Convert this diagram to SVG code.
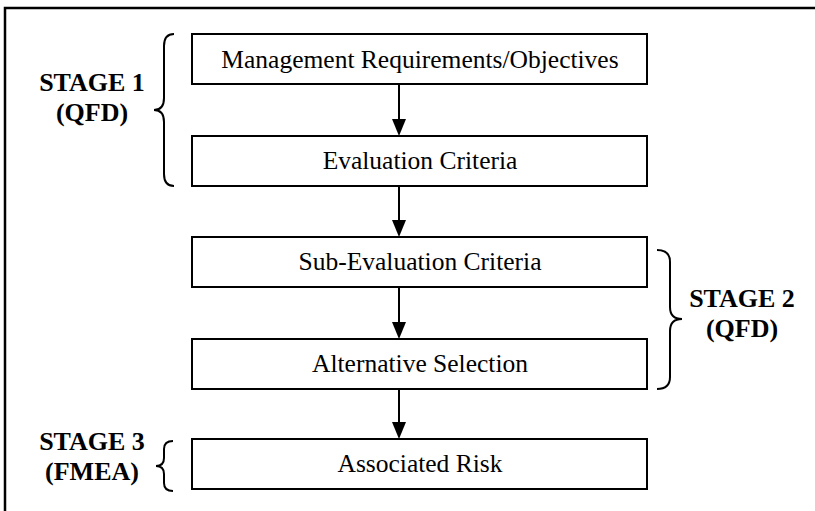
<svg xmlns="http://www.w3.org/2000/svg" width="815" height="511" viewBox="0 0 815 511">
<defs>
<style>
.box{fill:#fff;stroke:#000;stroke-width:2}
.lbl{font-family:"Liberation Serif","Times New Roman",serif;font-size:25.5px;fill:#000;text-anchor:middle}
.stg{font-family:"Liberation Serif","Times New Roman",serif;font-size:26px;font-weight:bold;fill:#000;text-anchor:middle}
.brace{fill:none;stroke:#000;stroke-width:2}
.conn{stroke:#000;stroke-width:2;fill:none}
</style>
</defs>
<rect width="815" height="511" fill="#fff"/>
<rect x="5" y="8" width="830" height="530" fill="none" stroke="#000" stroke-width="2.5"/>
<g id="connectors">
<line class="conn" x1="399" y1="84" x2="399" y2="119"/><path d="M392,119 L406,119 L399,136 Z"/>
<line class="conn" x1="399" y1="186" x2="399" y2="220"/><path d="M392,220 L406,220 L399,237 Z"/>
<line class="conn" x1="399" y1="287" x2="399" y2="322"/><path d="M392,322 L406,322 L399,339 Z"/>
<line class="conn" x1="399" y1="389" x2="399" y2="422"/><path d="M392,422 L406,422 L399,439 Z"/>
</g>
<g id="n1"><rect class="box" x="192" y="34" width="455" height="50"/><text class="lbl" x="420" y="68">Management Requirements/Objectives</text></g>
<g id="n2"><rect class="box" x="192" y="136" width="455" height="50"/><text class="lbl" x="420" y="169">Evaluation Criteria</text></g>
<g id="n3"><rect class="box" x="192" y="237" width="455" height="50"/><text class="lbl" x="420" y="270">Sub-Evaluation Criteria</text></g>
<g id="n4"><rect class="box" x="192" y="339" width="455" height="50"/><text class="lbl" x="420" y="372">Alternative Selection</text></g>
<g id="n5"><rect class="box" x="192" y="439" width="455" height="50"/><text class="lbl" x="420" y="472">Associated Risk</text></g>
<g id="stage1">
<path class="brace" d="M174,34 Q164,34 164,46 L164,98 Q164,110 154,110 Q164,110 164,122 L164,174 Q164,186 174,186"/>
<text class="stg" x="92" y="91">STAGE 1</text><text class="stg" x="92" y="121">(QFD)</text>
</g>
<g id="stage2">
<path class="brace" d="M657,250 Q670,250 670,262 L670,307 Q670,319 682,319 Q670,319 670,331 L670,377 Q670,389 657,389"/>
<text class="stg" x="742" y="307">STAGE 2</text><text class="stg" x="742" y="337">(QFD)</text>
</g>
<g id="stage3">
<path class="brace" d="M173,441 Q164,441 164,449 L164,458 Q164,466 156,466 Q164,466 164,474 L164,483 Q164,491 173,491"/>
<text class="stg" x="92" y="450">STAGE 3</text><text class="stg" x="92" y="480">(FMEA)</text>
</g>
</svg>
